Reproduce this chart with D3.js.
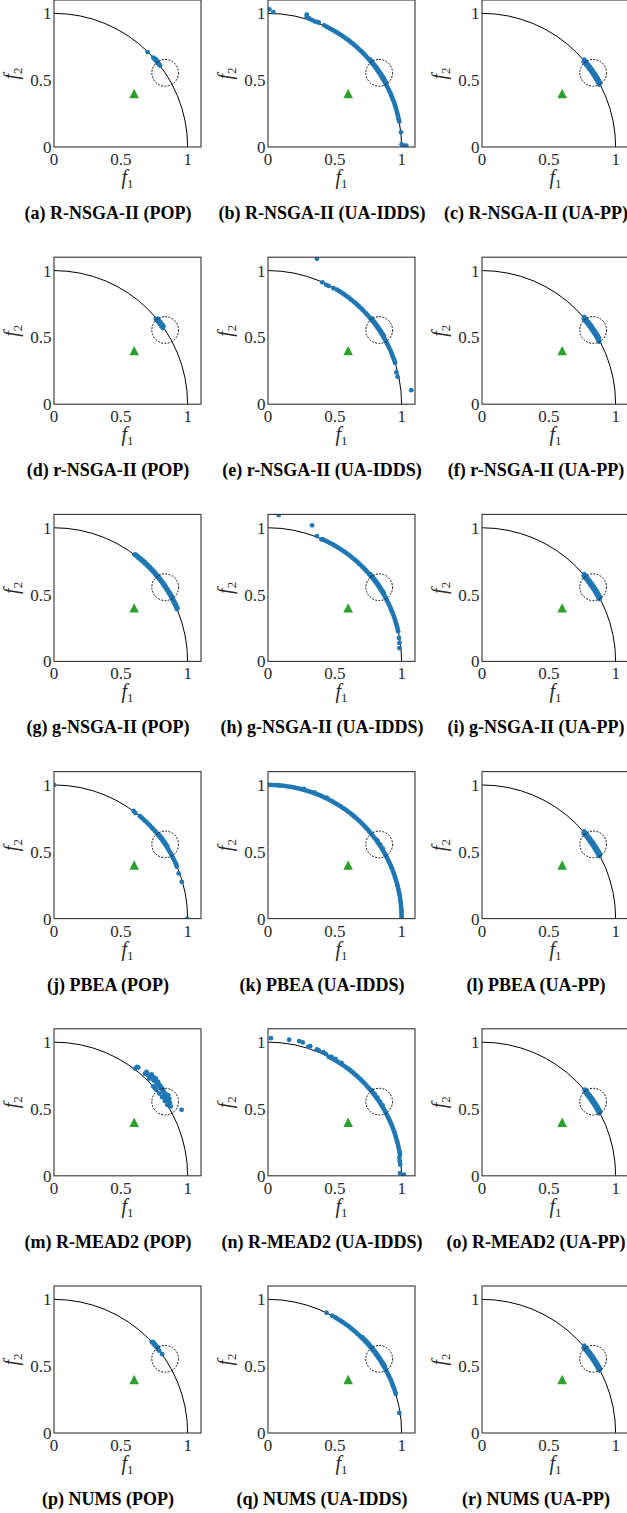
<!DOCTYPE html>
<html>
<head>
<meta charset="utf-8">
<style>
  body { margin: 0; background: #fff; }
  .tick { font-family: 'Liberation Serif', 'DejaVu Serif', serif; font-size: 17px; fill: #2a2a2a; }
  .lab { font-family: 'Liberation Serif', 'DejaVu Serif', serif; font-size: 20px; fill: #2a2a2a; }
  .cap { font-family: 'Liberation Serif', 'DejaVu Serif', serif; font-size: 18px; font-weight: bold; fill: #000; }
</style>
</head>
<body>
<div id="fig"></div>
<script src="https://d3js.org/d3.v7.min.js"></script>
<script>

const captions = [
  "(a) R-NSGA-II (POP)", "(b) R-NSGA-II (UA-IDDS)", "(c) R-NSGA-II (UA-PP)",
  "(d) r-NSGA-II (POP)", "(e) r-NSGA-II (UA-IDDS)", "(f) r-NSGA-II (UA-PP)",
  "(g) g-NSGA-II (POP)", "(h) g-NSGA-II (UA-IDDS)", "(i) g-NSGA-II (UA-PP)",
  "(j) PBEA (POP)", "(k) PBEA (UA-IDDS)", "(l) PBEA (UA-PP)",
  "(m) R-MEAD2 (POP)", "(n) R-MEAD2 (UA-IDDS)", "(o) R-MEAD2 (UA-PP)",
  "(p) NUMS (POP)", "(q) NUMS (UA-IDDS)", "(r) NUMS (UA-PP)"
];

const refPoint = [0.6, 0.4];
const roiCenter = [0.832, 0.555];
const roiRadius = 0.1;
const frontRadius = 1;
const ticks = [0, 0.5, 1];
const tickLabels = ["0", "0.5", "1"];

// obtained solutions [f1, f2], one list per panel
const ptsA = [[0.700,0.710],[0.743,0.669],[0.749,0.663],[0.755,0.656],[0.760,0.655],[0.766,0.643],
  [0.765,0.653],[0.772,0.636],[0.777,0.629],[0.783,0.623],[0.788,0.616],[0.793,0.609]];

const ptsB = [[0.010,1.030],[0.040,1.010],[0.290,0.990],[0.290,0.975],[0.300,0.965],[0.310,0.960],
  [0.330,0.950],[0.350,0.940],[0.370,0.935],[0.380,0.930],[0.420,0.910],[0.440,0.900],[0.455,0.892],
  [0.469,0.883],[0.485,0.875],[0.500,0.866],[0.515,0.857],[0.530,0.848],[0.545,0.839],[0.559,0.829],
  [0.574,0.819],[0.588,0.809],[0.602,0.799],[0.616,0.788],[0.629,0.777],[0.643,0.766],[0.656,0.755],
  [0.669,0.743],[0.682,0.731],[0.695,0.719],[0.707,0.707],[0.719,0.695],[0.731,0.682],[0.743,0.669],
  [0.755,0.656],[0.766,0.643],[0.777,0.629],[0.788,0.616],[0.799,0.602],[0.809,0.588],[0.819,0.574],
  [0.829,0.559],[0.839,0.545],[0.848,0.530],[0.857,0.515],[0.866,0.500],[0.875,0.485],[0.883,0.469],
  [0.891,0.454],[0.899,0.438],[0.906,0.423],[0.914,0.407],[0.921,0.391],[0.927,0.375],[0.934,0.358],
  [0.940,0.342],[0.946,0.326],[0.951,0.309],[0.956,0.292],[0.961,0.276],[0.966,0.259],[0.970,0.242],
  [0.974,0.225],[0.978,0.208],[0.982,0.191],
  [0.765,0.653],[0.776,0.640],[0.787,0.626],[0.798,0.612],[0.809,0.598],[0.819,0.584],[0.829,0.570],
  [0.839,0.555],[0.848,0.541],[0.858,0.526],[0.867,0.511],[0.876,0.495],[0.884,0.480],
  [0.995,0.110],[1.000,0.020],[1.020,0.010],[1.035,0.010]];

const ptsC = [[0.878,0.467],[0.869,0.482],[0.861,0.497],[0.852,0.512],[0.843,0.527],[0.834,0.541],
  [0.824,0.556],[0.814,0.570],[0.804,0.584],[0.794,0.598],[0.783,0.612],[0.772,0.626],[0.761,0.639],
  [0.884,0.480],[0.876,0.495],[0.867,0.511],[0.858,0.526],[0.848,0.541],[0.839,0.555],[0.829,0.570],
  [0.819,0.584],[0.809,0.598],[0.798,0.612],[0.787,0.626],[0.776,0.640],[0.765,0.653]];

const ptsD = [[0.814,0.570],[0.804,0.584],[0.794,0.598],[0.783,0.612],[0.772,0.626],[0.761,0.639],
  [0.819,0.584],[0.809,0.598],[0.798,0.612],[0.787,0.626],[0.776,0.640]];

const ptsE = [[0.366,1.088],[0.407,0.912],[0.435,0.893],[0.454,0.885],[0.490,0.868],
  [0.515,0.857],[0.530,0.848],[0.545,0.839],[0.559,0.829],[0.574,0.819],[0.588,0.809],[0.602,0.799],
  [0.616,0.788],[0.629,0.777],[0.643,0.766],[0.656,0.755],[0.669,0.743],[0.682,0.731],[0.695,0.719],
  [0.707,0.707],[0.719,0.695],[0.731,0.682],[0.743,0.669],[0.755,0.656],[0.766,0.643],[0.777,0.629],
  [0.788,0.616],[0.799,0.602],[0.809,0.588],[0.819,0.574],[0.829,0.559],[0.839,0.545],[0.848,0.530],
  [0.857,0.515],[0.866,0.500],[0.875,0.485],[0.883,0.469],[0.891,0.454],[0.899,0.438],[0.906,0.423],
  [0.914,0.407],[0.921,0.391],[0.927,0.375],[0.934,0.358],[0.940,0.342],[0.946,0.326],[0.951,0.309],
  [0.776,0.640],[0.787,0.626],[0.798,0.612],[0.809,0.598],[0.819,0.584],[0.829,0.570],[0.839,0.555],
  [0.848,0.541],[0.858,0.526],[0.867,0.511],
  [0.960,0.238],[0.970,0.205],[1.072,0.105]];

const ptsF = [[0.878,0.467],[0.869,0.482],[0.861,0.497],[0.852,0.512],[0.843,0.527],[0.834,0.541],
  [0.824,0.556],[0.814,0.570],[0.804,0.584],[0.794,0.598],[0.783,0.612],[0.772,0.626],[0.761,0.639],
  [0.876,0.495],[0.867,0.511],[0.858,0.526],[0.848,0.541],[0.839,0.555],[0.829,0.570],
  [0.819,0.584],[0.809,0.598],[0.798,0.612],[0.787,0.626],[0.776,0.640],[0.765,0.653]];

const ptsG = [[0.921,0.391],[0.914,0.407],[0.906,0.423],[0.899,0.438],[0.891,0.454],[0.883,0.469],
  [0.875,0.485],[0.866,0.500],[0.857,0.515],[0.848,0.530],[0.839,0.545],[0.829,0.559],[0.819,0.574],
  [0.809,0.588],[0.799,0.602],[0.788,0.616],[0.777,0.629],[0.766,0.643],[0.755,0.656],[0.743,0.669],
  [0.731,0.682],[0.719,0.695],[0.707,0.707],[0.695,0.719],[0.682,0.731],[0.669,0.743],[0.656,0.755],
  [0.643,0.766],[0.629,0.777],[0.616,0.788],[0.602,0.799],
  [0.923,0.401],[0.915,0.417],[0.908,0.433],[0.900,0.449],[0.892,0.464],[0.884,0.480],[0.876,0.495],
  [0.867,0.511],[0.858,0.526],[0.848,0.541],[0.839,0.555],[0.829,0.570],[0.819,0.584],[0.809,0.598],
  [0.798,0.612],[0.787,0.626],[0.776,0.640],[0.765,0.653],[0.753,0.667],[0.742,0.680],[0.730,0.693],
  [0.718,0.705],[0.705,0.718],[0.693,0.730],[0.680,0.742],[0.667,0.753],[0.653,0.765],[0.640,0.776],
  [0.626,0.787],[0.612,0.798]];

const ptsH = [[0.080,1.095],[0.330,1.018],[0.366,0.938],[0.400,0.913],
  [0.407,0.914],[0.423,0.906],[0.438,0.899],[0.454,0.891],[0.469,0.883],[0.485,0.875],[0.500,0.866],
  [0.515,0.857],[0.530,0.848],[0.545,0.839],[0.559,0.829],[0.574,0.819],[0.588,0.809],[0.602,0.799],
  [0.616,0.788],[0.629,0.777],[0.643,0.766],[0.656,0.755],[0.669,0.743],[0.682,0.731],[0.695,0.719],
  [0.707,0.707],[0.719,0.695],[0.731,0.682],[0.743,0.669],[0.755,0.656],[0.766,0.643],[0.777,0.629],
  [0.788,0.616],[0.799,0.602],[0.809,0.588],[0.819,0.574],[0.829,0.559],[0.839,0.545],[0.848,0.530],
  [0.857,0.515],[0.866,0.500],[0.875,0.485],[0.883,0.469],[0.891,0.454],[0.899,0.438],[0.906,0.423],
  [0.914,0.407],[0.921,0.391],[0.927,0.375],[0.934,0.358],[0.940,0.342],[0.946,0.326],[0.951,0.309],
  [0.956,0.292],[0.961,0.276],[0.966,0.259],[0.970,0.242],[0.974,0.225],
  [0.765,0.653],[0.776,0.640],[0.787,0.626],[0.798,0.612],[0.809,0.598],[0.819,0.584],[0.829,0.570],
  [0.839,0.555],[0.848,0.541],[0.858,0.526],[0.867,0.511],
  [0.980,0.175],[0.983,0.138],[0.983,0.100]];

const ptsI = [[0.878,0.467],[0.869,0.482],[0.861,0.497],[0.852,0.512],[0.843,0.527],[0.834,0.541],
  [0.824,0.556],[0.814,0.570],[0.804,0.584],[0.794,0.598],[0.783,0.612],[0.772,0.626],[0.761,0.639],
  [0.884,0.480],[0.876,0.495],[0.867,0.511],[0.858,0.526],[0.848,0.541],[0.839,0.555],[0.829,0.570],
  [0.819,0.584],[0.809,0.598],[0.798,0.612],[0.787,0.626],[0.776,0.640],[0.765,0.653]];

const ptsJ = [[0.000,1.000],[0.596,0.805],[0.609,0.790],
  [0.643,0.766],[0.656,0.755],[0.669,0.743],[0.682,0.731],[0.695,0.719],[0.707,0.707],[0.719,0.695],
  [0.731,0.682],[0.743,0.669],[0.755,0.656],[0.766,0.643],[0.777,0.629],[0.788,0.616],[0.799,0.602],
  [0.809,0.588],[0.819,0.574],[0.829,0.559],[0.839,0.545],[0.848,0.530],[0.857,0.515],[0.866,0.500],
  [0.875,0.485],[0.883,0.469],[0.891,0.454],[0.899,0.438],[0.906,0.423],[0.914,0.407],[0.918,0.390],
  [0.787,0.626],[0.798,0.612],[0.809,0.598],[0.819,0.584],[0.829,0.570],[0.839,0.555],[0.848,0.541],
  [0.933,0.338],[0.956,0.275],[0.997,0.000]];

const ptsK = [[0.000,1.000],[0.017,1.000],[0.035,0.999],[0.052,0.999],[0.070,0.998],[0.087,0.996],
  [0.105,0.995],[0.122,0.993],[0.139,0.990],[0.156,0.988],[0.174,0.985],[0.191,0.982],[0.208,0.978],
  [0.225,0.974],[0.242,0.970],[0.259,0.966],[0.276,0.961],[0.292,0.956],[0.309,0.951],[0.326,0.946],
  [0.342,0.940],[0.358,0.934],[0.375,0.927],[0.391,0.921],[0.407,0.914],[0.423,0.906],[0.438,0.899],
  [0.454,0.891],[0.469,0.883],[0.485,0.875],[0.500,0.866],[0.515,0.857],[0.530,0.848],[0.545,0.839],
  [0.559,0.829],[0.574,0.819],[0.588,0.809],[0.602,0.799],[0.616,0.788],[0.629,0.777],[0.643,0.766],
  [0.656,0.755],[0.669,0.743],[0.682,0.731],[0.695,0.719],[0.707,0.707],[0.719,0.695],[0.731,0.682],
  [0.743,0.669],[0.755,0.656],[0.766,0.643],[0.777,0.629],[0.788,0.616],[0.799,0.602],[0.809,0.588],
  [0.819,0.574],[0.829,0.559],[0.839,0.545],[0.848,0.530],[0.857,0.515],[0.866,0.500],[0.875,0.485],
  [0.883,0.469],[0.891,0.454],[0.899,0.438],[0.906,0.423],[0.914,0.407],[0.921,0.391],[0.927,0.375],
  [0.934,0.358],[0.940,0.342],[0.946,0.326],[0.951,0.309],[0.956,0.292],[0.961,0.276],[0.966,0.259],
  [0.970,0.242],[0.974,0.225],[0.978,0.208],[0.982,0.191],[0.985,0.174],[0.988,0.156],[0.990,0.139],
  [0.993,0.122],[0.995,0.105],[0.996,0.087],[0.998,0.070],[0.999,0.052],[0.999,0.035],[1.000,0.017],
  [1.000,0.000],
  [0.270,0.970],[0.350,0.943],[0.440,0.905],[0.819,0.584],[0.839,0.555],[0.858,0.526]];

const ptsL = [[0.878,0.467],[0.869,0.482],[0.861,0.497],[0.852,0.512],[0.843,0.527],[0.834,0.541],
  [0.824,0.556],[0.814,0.570],[0.804,0.584],[0.794,0.598],[0.783,0.612],[0.772,0.626],[0.761,0.639],
  [0.884,0.480],[0.876,0.495],[0.867,0.511],[0.858,0.526],[0.848,0.541],[0.839,0.555],[0.829,0.570],
  [0.819,0.584],[0.809,0.598],[0.798,0.612],[0.787,0.626],[0.776,0.640],[0.765,0.653]];

const ptsM = [[0.606,0.802],[0.623,0.815],[0.630,0.810],
  [0.681,0.764],[0.693,0.777],[0.700,0.760],[0.706,0.752],[0.713,0.727],[0.720,0.745],[0.731,0.759],
  [0.735,0.740],[0.743,0.734],[0.745,0.715],[0.750,0.735],[0.756,0.714],[0.763,0.727],[0.768,0.689],
  [0.772,0.700],[0.780,0.702],[0.782,0.675],[0.793,0.677],[0.796,0.660],[0.805,0.659],[0.810,0.650],
  [0.815,0.635],[0.818,0.639],[0.823,0.614],[0.830,0.589],[0.835,0.615],[0.843,0.564],[0.845,0.590],
  [0.855,0.601],[0.858,0.575],[0.863,0.576],[0.866,0.545],[0.868,0.539],[0.873,0.519],[0.848,0.570],
  [0.743,0.669],[0.755,0.656],[0.766,0.643],[0.788,0.616],[0.809,0.588],[0.829,0.559],[0.848,0.530],
  [0.955,0.494]];

const ptsN = [[0.022,1.030],[0.158,1.018],[0.233,1.008],[0.260,0.998],[0.302,0.965],[0.316,0.970],
  [0.366,0.945],[0.380,0.938],[0.413,0.925],[0.432,0.912],
  [0.454,0.891],[0.469,0.883],[0.485,0.875],[0.500,0.866],[0.515,0.857],[0.530,0.848],[0.545,0.839],
  [0.559,0.829],[0.574,0.819],[0.588,0.809],[0.602,0.799],[0.616,0.788],[0.629,0.777],[0.643,0.766],
  [0.656,0.755],[0.669,0.743],[0.682,0.731],[0.695,0.719],[0.707,0.707],[0.719,0.695],[0.731,0.682],
  [0.743,0.669],[0.755,0.656],[0.766,0.643],[0.777,0.629],[0.788,0.616],[0.799,0.602],[0.809,0.588],
  [0.819,0.574],[0.829,0.559],[0.839,0.545],[0.848,0.530],[0.857,0.515],[0.866,0.500],[0.875,0.485],
  [0.883,0.469],[0.891,0.454],[0.899,0.438],[0.906,0.423],[0.914,0.407],[0.921,0.391],[0.927,0.375],
  [0.934,0.358],[0.940,0.342],[0.946,0.326],[0.951,0.309],[0.956,0.292],[0.961,0.276],[0.966,0.259],
  [0.970,0.242],[0.974,0.225],[0.978,0.208],[0.982,0.191],[0.985,0.174],[0.988,0.156],
  [0.475,0.890],[0.505,0.875],[0.550,0.845],
  [0.776,0.640],[0.798,0.612],[0.819,0.584],[0.839,0.555],[0.858,0.526],
  [0.983,0.133],[0.986,0.108],[0.989,0.083],[0.989,0.020],[1.017,0.008]];

const ptsO = [[0.878,0.467],[0.869,0.482],[0.861,0.497],[0.852,0.512],[0.843,0.527],[0.834,0.541],
  [0.824,0.556],[0.814,0.570],[0.804,0.584],[0.794,0.598],[0.783,0.612],[0.772,0.626],
  [0.884,0.480],[0.876,0.495],[0.867,0.511],[0.858,0.526],[0.848,0.541],[0.839,0.555],[0.829,0.570],
  [0.819,0.584],[0.809,0.598],[0.798,0.612],[0.787,0.626],[0.776,0.640],[0.767,0.645]];

const ptsP = [[0.731,0.682],[0.743,0.669],[0.755,0.656],[0.766,0.643],[0.777,0.629],[0.788,0.616],
  [0.742,0.680],[0.753,0.667],[0.765,0.653],[0.776,0.640],[0.809,0.590]];

const ptsQ = [[0.438,0.900],[0.480,0.878],
  [0.500,0.866],[0.515,0.857],[0.530,0.848],[0.545,0.839],[0.559,0.829],[0.574,0.819],[0.588,0.809],
  [0.602,0.799],[0.616,0.788],[0.629,0.777],[0.643,0.766],[0.656,0.755],[0.669,0.743],[0.682,0.731],
  [0.695,0.719],[0.707,0.707],[0.719,0.695],[0.731,0.682],[0.743,0.669],[0.755,0.656],[0.766,0.643],
  [0.777,0.629],[0.788,0.616],[0.799,0.602],[0.809,0.588],[0.819,0.574],[0.829,0.559],[0.839,0.545],
  [0.848,0.530],[0.857,0.515],[0.866,0.500],[0.875,0.485],[0.883,0.469],[0.891,0.454],[0.899,0.438],
  [0.906,0.423],[0.914,0.407],[0.921,0.391],[0.927,0.375],[0.934,0.358],[0.940,0.342],[0.946,0.326],
  [0.951,0.309],[0.956,0.292],
  [0.705,0.718],[0.718,0.705],[0.730,0.693],[0.742,0.680],[0.753,0.667],[0.765,0.653],[0.776,0.640],
  [0.787,0.626],[0.798,0.612],[0.809,0.598],[0.819,0.584],[0.829,0.570],[0.839,0.555],[0.848,0.541],
  [0.858,0.526],[0.867,0.511],[0.876,0.495],
  [0.983,0.150]];

const ptsR = [[0.878,0.467],[0.869,0.482],[0.861,0.497],[0.852,0.512],[0.843,0.527],[0.834,0.541],
  [0.824,0.556],[0.814,0.570],[0.804,0.584],[0.794,0.598],[0.783,0.612],[0.772,0.626],[0.761,0.639],
  [0.884,0.480],[0.876,0.495],[0.867,0.511],[0.858,0.526],[0.848,0.541],[0.839,0.555],[0.829,0.570],
  [0.819,0.584],[0.809,0.598],[0.798,0.612],[0.787,0.626],[0.776,0.640],[0.765,0.653]];

const panels = [ptsA, ptsB, ptsC, ptsD, ptsE, ptsF, ptsG, ptsH, ptsI,
  ptsJ, ptsK, ptsL, ptsM, ptsN, ptsO, ptsP, ptsQ, ptsR];

// layout
const W = 627, H = 1513, size = 147;
const colLeft = [54, 268, 482], rowStep = 257.2;

const x = d3.scaleLinear().domain([0, 1.1]).range([0, size]);
const y = d3.scaleLinear().domain([0, 1.1]).range([size, 0]);

const svg = d3.select("#fig").append("svg")
  .attr("width", W).attr("height", H);

svg.append("defs").append("clipPath").attr("id", "box")
  .append("rect").attr("width", size).attr("height", size);

panels.forEach((pts, i) => {
  const g = svg.append("g")
    .attr("transform", `translate(${colLeft[i % 3]},${Math.floor(i / 3) * rowStep})`);

  const plot = g.append("g").attr("clip-path", "url(#box)");

  // true front: quarter circle
  const rx = x(frontRadius) - x(0), ry = y(0) - y(frontRadius);
  plot.append("path")
    .attr("d", `M${x(0)},${y(frontRadius)} A${rx},${ry} 0 0 1 ${x(frontRadius)},${y(0)}`)
    .attr("fill", "none").attr("stroke", "#000").attr("stroke-width", 1);

  plot.selectAll("circle.pt")
    .data(pts)
    .join("circle")
      .attr("class", "pt")
      .attr("cx", d => x(d[0]))
      .attr("cy", d => y(d[1]))
      .attr("r", 2.4)
      .attr("fill", "#1f77b4");

  // region of interest
  plot.append("ellipse")
    .attr("cx", x(roiCenter[0])).attr("cy", y(roiCenter[1]))
    .attr("rx", x(roiRadius) - x(0)).attr("ry", y(0) - y(roiRadius))
    .attr("fill", "none").attr("stroke", "#000").attr("stroke-width", 1)
    .attr("stroke-dasharray", "1.8,1.5");

  // reference point
  plot.append("path")
    .attr("transform", `translate(${x(refPoint[0])},${y(refPoint[1])})`)
    .attr("d", "M0,-4.8L4.8,4.6L-4.8,4.6Z")
    .attr("fill", "#2ca02c");

  g.append("rect")
    .attr("width", size).attr("height", size)
    .attr("fill", "none").attr("stroke", "#333").attr("stroke-width", 1.1);

  g.selectAll("text.xt")
    .data(ticks)
    .join("text")
      .attr("class", "tick xt")
      .attr("x", d => x(d))
      .attr("y", size + 18)
      .attr("text-anchor", "middle")
      .text((d, k) => tickLabels[k]);

  g.selectAll("text.yt")
    .data(ticks)
    .join("text")
      .attr("class", "tick yt")
      .attr("x", -2.5)
      .attr("y", d => y(d))
      .attr("dy", "0.35em")
      .attr("text-anchor", "end")
      .text((d, k) => tickLabels[k]);

  const xl = g.append("text").attr("class", "lab")
    .attr("x", size / 2).attr("y", size + 37).attr("text-anchor", "middle");
  xl.append("tspan").attr("font-style", "italic").text("f");
  xl.append("tspan").attr("font-size", 13).attr("dy", 4).text("1");

  const yl = g.append("text").attr("class", "lab")
    .attr("transform", `translate(-36,${size / 2}) rotate(-90)`)
    .attr("text-anchor", "middle");
  yl.append("tspan").attr("font-style", "italic").text("f");
  yl.append("tspan").attr("font-size", 13).attr("dy", 4).text("2");

  g.append("text").attr("class", "cap")
    .attr("x", 54).attr("y", 219)
    .attr("text-anchor", "middle")
    .text(captions[i]);
});
</script>
</body>
</html>
